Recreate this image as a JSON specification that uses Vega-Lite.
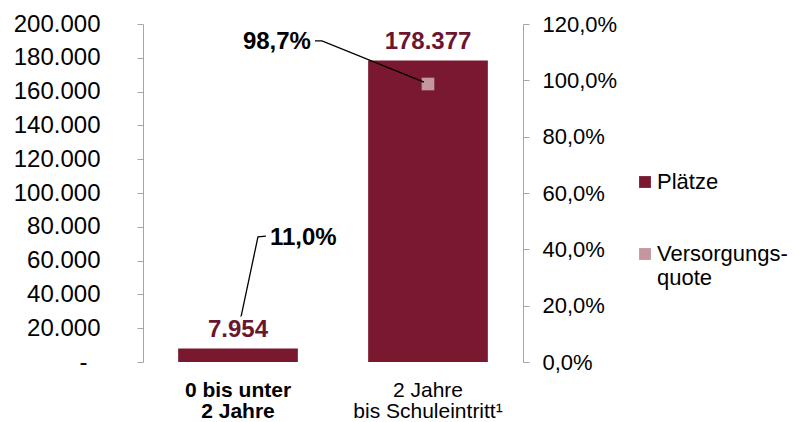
{
  "$schema": "https://vega.github.io/schema/vega-lite/v6.json",
  "width": 380,
  "height": 338,
  "autosize": {"type": "none"},
  "padding": {"left": 143, "top": 24, "right": 284, "bottom": 60},
  "config": {
    "view": {"stroke": null},
    "font": "Liberation Sans",
    "locale": {"number": {"decimal": ",", "thousands": ".", "grouping": [3], "currency": ["", " €"]}}
  },
  "datasets": {
    "main": [
      {"gruppe": "0 bis unter 2 Jahre", "plaetze": 7954, "quote": 0.11},
      {"gruppe": "2 Jahre bis Schuleintritt¹", "plaetze": 178377, "quote": 0.987}
    ],
    "leader": [
      {"id": "a", "o": 1, "ax": 0.905, "ay": 1.14},
      {"id": "a", "o": 2, "ax": 0.942, "ay": 1.14},
      {"id": "a", "o": 3, "ax": 1.479, "ay": 0.994},
      {"id": "b", "o": 1, "ax": 0.647, "ay": 0.447},
      {"id": "b", "o": 2, "ax": 0.605, "ay": 0.444},
      {"id": "b", "o": 3, "ax": 0.5, "ay": 0.11}
    ],
    "notes": [
      {"ax": 0.884, "ay": 1.136, "quote": 0.987, "side": "right"},
      {"ax": 0.668, "ay": 0.44, "quote": 0.11, "side": "left"}
    ]
  },
  "layer": [
    {
      "data": {"name": "main"},
      "mark": {"type": "bar", "color": "#7A1830"},
      "encoding": {
        "x": {
          "field": "gruppe", "type": "nominal", "sort": null,
          "scale": {"paddingInner": 0.37, "paddingOuter": 0.185},
          "axis": {
            "title": null, "orient": "bottom", "domain": false, "ticks": false,
            "labelAngle": 0, "labelFontSize": 21, "labelColor": "#000",
            "labelPadding": 17, "labelLineHeight": 21, "labelBaseline": "top",
            "labelFontWeight": {"condition": {"test": "datum.value == '0 bis unter 2 Jahre'", "value": "bold"}, "value": "normal"},
            "labelExpr": "datum.value == '0 bis unter 2 Jahre' ? ['0 bis unter', '2 Jahre'] : ['2 Jahre', 'bis Schuleintritt¹']"
          }
        },
        "y": {
          "field": "plaetze", "type": "quantitative",
          "scale": {"domain": [0, 200000], "nice": false},
          "axis": {
            "title": null, "orient": "left", "grid": false,
            "values": [0, 20000, 40000, 60000, 80000, 100000, 120000, 140000, 160000, 180000, 200000],
            "format": ",.0f",
            "labelExpr": "datum.value == 0 ? '-' : datum.label",
            "domainColor": "#A6A6A6", "tickColor": "#A6A6A6", "tickSize": 6,
            "labelFontSize": 24, "labelColor": "#000",
            "labelPadding": {"condition": {"test": "datum.value == 0", "value": 50}, "value": 37}
          }
        },
        "color": {
          "datum": "Plätze", "type": "nominal",
          "scale": {"domain": ["Plätze", "Versorgungsquote"], "range": ["#7A1830", "#C4969D"]},
          "legend": {
            "orient": "none", "legendX": 491, "legendY": 147, "title": null,
            "symbolType": "square", "symbolSize": 140, "symbolStrokeWidth": 0,
            "labelFontSize": 22, "labelColor": "#000", "labelOffset": 1,
            "rowPadding": 50, "labelLineHeight": 31,
            "labelExpr": "datum.label == 'Versorgungsquote' ? ['Versorgungs-', 'quote'] : datum.label"
          }
        }
      }
    },
    {
      "data": {"name": "main"},
      "mark": {"type": "square", "size": 160, "opacity": 1},
      "encoding": {
        "x": {
          "field": "gruppe", "type": "nominal", "sort": null,
          "scale": {"paddingInner": 0.37, "paddingOuter": 0.185},
          "axis": null
        },
        "y": {
          "field": "quote", "type": "quantitative",
          "scale": {"domain": [0, 1.2], "nice": false},
          "axis": {
            "title": null, "orient": "right", "grid": false,
            "values": [0, 0.2, 0.4, 0.6, 0.8, 1, 1.2],
            "format": ".1%",
            "domainColor": "#A6A6A6", "tickColor": "#A6A6A6", "tickSize": 6,
            "labelFontSize": 22, "labelColor": "#000", "labelPadding": 13
          }
        },
        "color": {"datum": "Versorgungsquote", "type": "nominal"}
      }
    },
    {
      "data": {"name": "leader"},
      "mark": {"type": "line", "color": "#000", "strokeWidth": 1.3},
      "encoding": {
        "x": {"field": "ax", "type": "quantitative", "scale": {"domain": [0, 2], "nice": false, "zero": false}, "axis": null},
        "y": {"field": "ay", "type": "quantitative", "scale": {"domain": [0, 1.2], "nice": false}, "axis": null},
        "detail": {"field": "id"},
        "order": {"field": "o"}
      }
    },
    {
      "data": {"name": "notes"},
      "layer": [
        {
          "transform": [{"filter": "datum.side == 'right'"}],
          "mark": {"type": "text", "align": "right", "baseline": "middle", "fontSize": 24, "fontWeight": "bold", "color": "#000"},
          "encoding": {
            "x": {"field": "ax", "type": "quantitative", "scale": {"domain": [0, 2], "nice": false, "zero": false}, "axis": null},
            "y": {"field": "ay", "type": "quantitative", "scale": {"domain": [0, 1.2], "nice": false}, "axis": null},
            "text": {"field": "quote", "type": "quantitative", "format": ".1%"}
          }
        },
        {
          "transform": [{"filter": "datum.side == 'left'"}],
          "mark": {"type": "text", "align": "left", "baseline": "middle", "fontSize": 24, "fontWeight": "bold", "color": "#000"},
          "encoding": {
            "x": {"field": "ax", "type": "quantitative", "scale": {"domain": [0, 2], "nice": false, "zero": false}, "axis": null},
            "y": {"field": "ay", "type": "quantitative", "scale": {"domain": [0, 1.2], "nice": false}, "axis": null},
            "text": {"field": "quote", "type": "quantitative", "format": ".1%"}
          }
        }
      ]
    },
    {
      "data": {"name": "main"},
      "encoding": {
        "x": {
          "field": "gruppe", "type": "nominal", "sort": null,
          "scale": {"paddingInner": 0.37, "paddingOuter": 0.185},
          "axis": null
        },
        "y": {"field": "plaetze", "type": "quantitative", "scale": {"domain": [0, 200000], "nice": false}, "axis": null},
        "text": {"field": "plaetze", "type": "quantitative", "format": ",.0f"}
      },
      "layer": [
        {"mark": {"type": "text", "baseline": "middle", "dy": -19, "fontSize": 24, "fontWeight": "bold", "fill": "#fff", "stroke": "#fff", "strokeWidth": 8, "strokeJoin": "round"}},
        {"mark": {"type": "text", "baseline": "middle", "dy": -19, "fontSize": 24, "fontWeight": "bold", "color": "#6B1631"}}
      ]
    }
  ],
  "resolve": {"scale": {"x": "independent", "y": "independent"}}
}
